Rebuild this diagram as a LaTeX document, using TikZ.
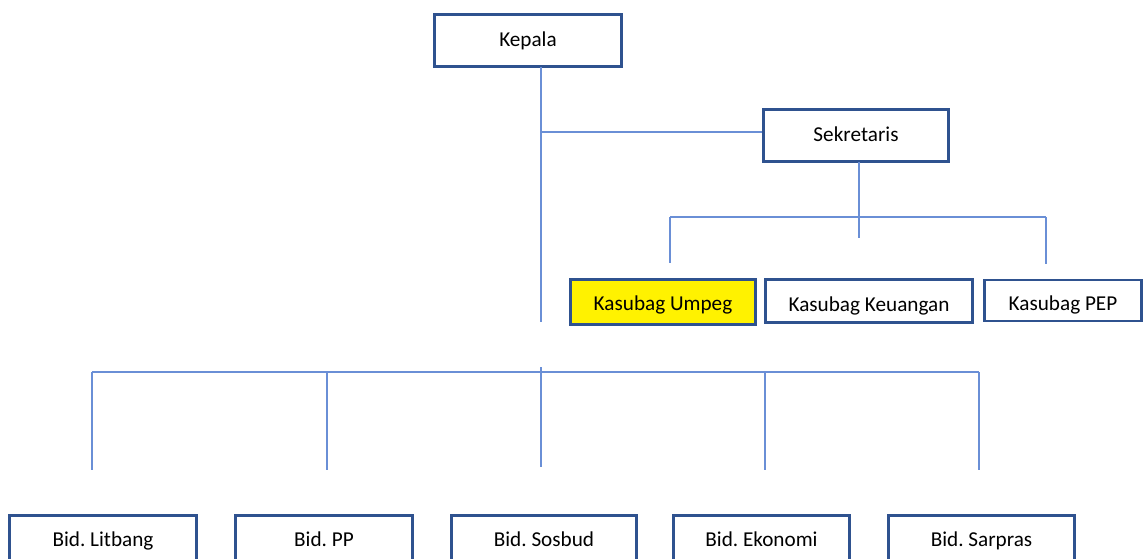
\documentclass[tikz,border=0pt]{standalone}
\usepackage{fontspec}
\setmainfont{Carlito}
\frenchspacing
\newcommand\lowtx[2]{\raisebox{-#1pt}[0pt][0pt]{#2}}
\begin{document}
\begin{tikzpicture}[x=1pt,y=-1pt,
  org/.style={draw=boxblue,line width=2.6pt,fill=white,inner sep=0pt,font=\fontsize{21.2}{25}\selectfont},
  conn/.style={draw=lineblue,line width=1.1pt}]
\definecolor{boxblue}{HTML}{2F528F}
\definecolor{lineblue}{HTML}{6A8FD6}
\useasboundingbox (0,0) rectangle (1144,558);
% boxes
\node[org,minimum width=187pt,minimum height=52pt] (kep) at (528,40.5) {\lowtx{5.5}{Kepala}};
\node[org,minimum width=185pt,minimum height=52pt] (sek) at (856,135.5) {\lowtx{6}{Sekretaris}};
\node[org,fill=yellow,minimum width=185pt,minimum height=45pt] (ump) at (663,302) {\lowtx{8.5}{Kasubag Umpeg}};
\node[org,minimum width=207pt,minimum height=43pt] (keu) at (869,301) {\lowtx{10.5}{Kasubag Keuangan}};
\node[org,minimum width=157pt,minimum height=41pt] (pep) at (1063,300.5) {\lowtx{9.5}{Kasubag PEP}};
\node[org,minimum width=187pt,minimum height=50pt,anchor=north] (lit) at (103,514) {\lowtx{6}{Bid. Litbang}};
\node[org,minimum width=177pt,minimum height=50pt,anchor=north] (pp) at (324,514) {\lowtx{6}{Bid. PP}};
\node[org,minimum width=185pt,minimum height=50pt,anchor=north] (sos) at (544,514) {\lowtx{6}{Bid. Sosbud}};
\node[org,minimum width=176pt,minimum height=50pt,anchor=north] (eko) at (761.5,514) {\lowtx{6}{Bid. Ekonomi}};
\node[org,minimum width=186pt,minimum height=50pt,anchor=north] (sar) at (981.5,514) {\lowtx{6}{Bid. Sarpras}};
% coordinates
\coordinate (kbot) at (541,67);
\coordinate (kend) at (541,322);
\coordinate (kmid) at (541,132);
\coordinate (sbot) at (859,162);
\coordinate (send) at (859,238);
\coordinate (hl) at (670,217);
\coordinate (hr) at (1046,217);
\coordinate (hlb) at (670,263);
\coordinate (hrb) at (1046,264);
\coordinate (bl) at (92,372);
\coordinate (br) at (979,372);
% connectors
\draw[conn] (kbot) -- (kend);
\draw[conn] (kmid) -- (sek.west |- kmid);
\draw[conn] (sbot) -- (send);
\draw[conn] (hl) -- (hr);
\draw[conn] (hl) -- (hlb);
\draw[conn] (hr) -- (hrb);
\draw[conn] (bl) -- (br);
\draw[conn] (92,372) -- (92,470);
\draw[conn] (327,372) -- (327,470);
\draw[conn] (541,367) -- (541,467);
\draw[conn] (765,372) -- (765,470);
\draw[conn] (979,372) -- (979,470);
\end{tikzpicture}
\end{document}
